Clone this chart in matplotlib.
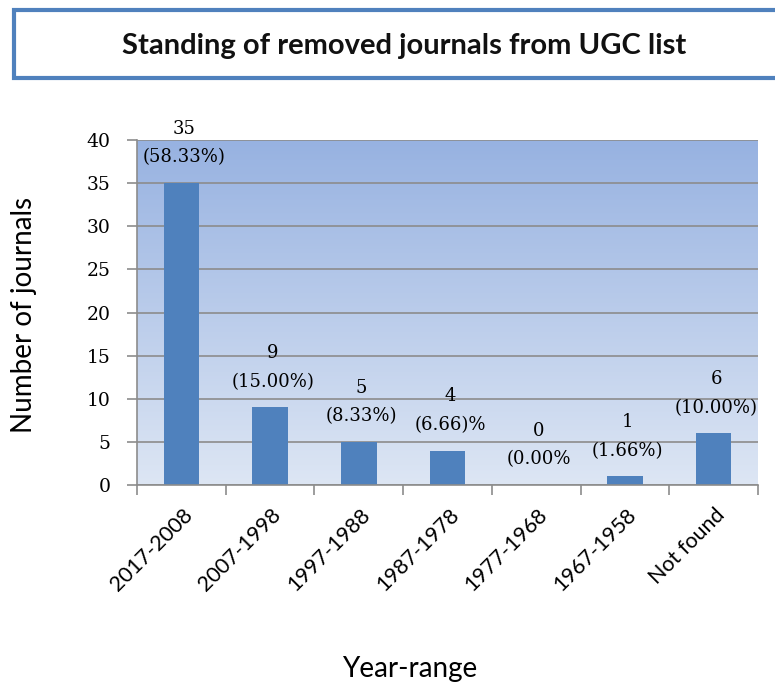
import numpy as np
import matplotlib.pyplot as plt
from matplotlib.patches import Rectangle
from matplotlib.colors import LinearSegmentedColormap
from matplotlib.transforms import ScaledTranslation

# data
categories = ["2017-2008", "2007-1998", "1997-1988", "1987-1978", "1977-1968", "1967-1958", "Not found"]
counts = [35, 9, 5, 4, 0, 1, 6]
pct_labels = ["(58.33%)", "(15.00%)", "(8.33%)", "(6.66)%", "(0.00%", "(1.66%)", "(10.00%)"]

W, H = 775, 684
fig = plt.figure(figsize=(W / 100, H / 100), dpi=100)

# title box
fig.patches.append(Rectangle((14 / W, 1 - 78 / H), 1.0, 68 / H, transform=fig.transFigure,
                             facecolor="white", edgecolor="#4F81BD", linewidth=3, zorder=0))
fig.text(404 / W, 1 - 46 / H, "Standing of removed journals from UGC list",
         ha="center", va="center", fontsize=21, fontweight="bold", family="Lato", color="#111111")

ax = fig.add_axes([137 / W, 1 - 485 / H, 621 / W, 345 / H])

# gradient background
grad = np.linspace(0, 1, 256).reshape(-1, 1)
cmap = LinearSegmentedColormap.from_list("bg", ["#DDE6F4", "#97B2E1"])
ax.imshow(grad, extent=[-0.5, 6.5, 0, 40], origin="lower", aspect="auto", cmap=cmap, zorder=0)

x = np.arange(len(categories))
ax.bar(x, counts, width=0.4, color="#4F81BD", zorder=3)

ax.set_xlim(-0.5, 6.5)
ax.set_ylim(0, 40)
ax.set_yticks(range(0, 41, 5))
ax.yaxis.grid(True, color="#8C8C8C", linewidth=1.2, zorder=1)
ax.set_axisbelow(False)

for s in ["top", "right"]:
    ax.spines[s].set_visible(False)
for s in ["left", "bottom"]:
    ax.spines[s].set_color("#8C8C8C")
    ax.spines[s].set_linewidth(1.2)
    ax.spines[s].set_zorder(4)

ax.set_xticks(np.arange(-0.5, 7, 1))
ax.set_xticklabels([])
ax.set_xticks(x, minor=True)
ax.set_xticklabels(categories, minor=True, rotation=45, ha="right", va="top",
                   rotation_mode="anchor", fontsize=15.5, family="Lato")
ax.tick_params(axis="x", which="major", length=7, color="#8C8C8C", width=1.2)
ax.tick_params(axis="x", which="minor", length=0, pad=14)
ax.tick_params(axis="y", length=7, color="#8C8C8C", width=1.2, labelsize=13.5, pad=12)
for t in ax.get_yticklabels():
    t.set_family("DejaVu Serif")
shift = ScaledTranslation(1 / 100, 0, fig.dpi_scale_trans)
for t in ax.get_xticklabels(minor=True):
    t.set_transform(t.get_transform() + shift)

# data labels
for xi, c, p in zip(x, counts, pct_labels):
    ax.annotate(f"{c}\n{p}", (xi, c), xytext=(2, 12), textcoords="offset points",
                ha="center", va="bottom", fontsize=13, family="DejaVu Serif",
                linespacing=1.75, annotation_clip=False, zorder=5)

fig.text(24 / W, 1 - 315 / H, "Number of journals", rotation=90, ha="center", va="center",
         fontsize=20, family="Lato")
fig.text(410 / W, 1 - 669 / H, "Year-range", ha="center", va="center", fontsize=20, family="Lato")

fig.savefig("out.png", dpi=100)
